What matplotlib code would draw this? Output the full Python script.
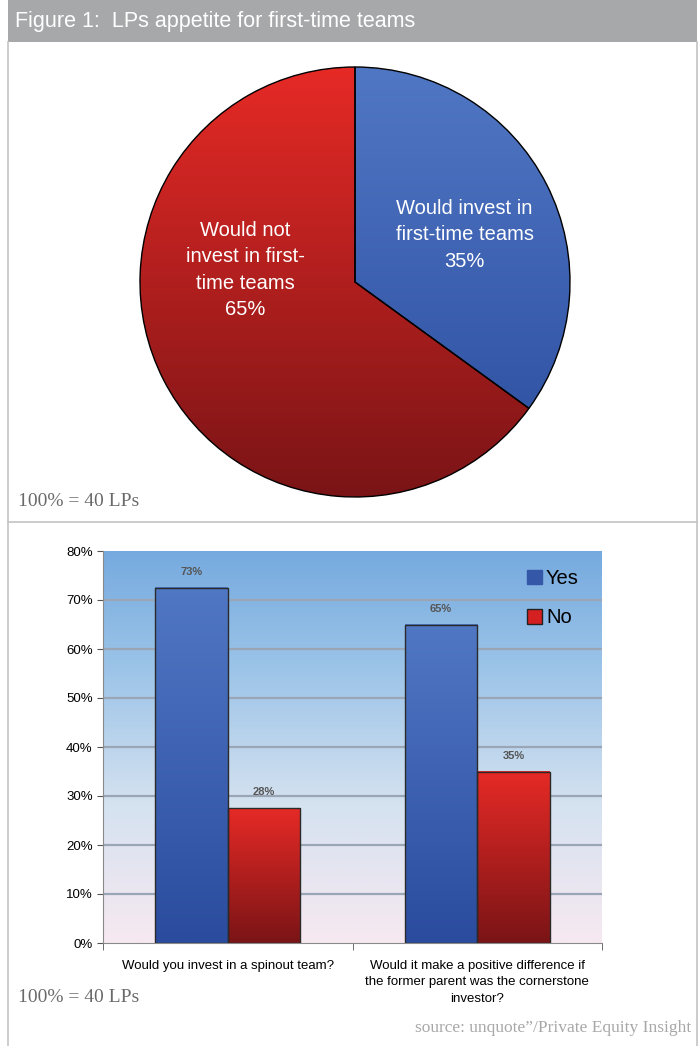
import matplotlib
matplotlib.use("Agg")
import matplotlib.pyplot as plt
import numpy as np
from matplotlib.colors import LinearSegmentedColormap
from matplotlib.patches import Rectangle
from matplotlib.lines import Line2D

# ---- data -------------------------------------------------------------
TITLE = "Figure 1:  LPs appetite for first-time teams"
PIE_LABELS = ["Would invest in\nfirst-time teams", "Would not\ninvest in first-\ntime teams"]
PIE_SHARES = [35, 65]
QUESTIONS = ["Would you invest in a spinout team?",
             "Would it make a positive difference if\nthe former parent was the cornerstone\ninvestor?"]
YES = [72.5, 65.0]
NO = [27.5, 35.0]
YES_LABELS = ["73%", "65%"]
NO_LABELS = ["28%", "35%"]
Y_TICKS = [0, 10, 20, 30, 40, 50, 60, 70, 80]
BASE_NOTE = "100% = 40 LPs"
SOURCE = "source: unquote\u201d/Private Equity Insight"

SANS = ["Liberation Sans", "DejaVu Sans"]
SERIF = ["Liberation Serif", "DejaVu Serif"]

BLUE_CM = LinearSegmentedColormap.from_list("blue", ["#5077c4", "#2b4c9e"])
RED_CM = LinearSegmentedColormap.from_list("red", ["#e62a26", "#7a1416"])
BG_CM = LinearSegmentedColormap.from_list(
    "bg", [(0, "#f7e9f0"), (0.35, "#d5e2f0"), (0.7, "#9cc4e8"), (1, "#76aadf")])

W, H = 698, 1046
fig = plt.figure(figsize=(W / 100, H / 100), dpi=100)


def fx(px):
    return px / W


def fy(py):
    return 1 - py / H


# ---- frame / header -----------------------------------------------------
frame = fig.add_axes([0, 0, 1, 1])
frame.set_xlim(0, W)
frame.set_ylim(H, 0)
frame.axis("off")
frame.add_patch(Rectangle((8, 0), 689, 42, color="#a7a8aa", lw=0))
frame.text(15, 22, TITLE, color="white", fontsize=15.5, family=SANS,
           va="center", ha="left")
for x in (8, 697):
    frame.add_line(Line2D([x, x], [42, H], color="#c4c4c4", lw=1.2))
frame.add_line(Line2D([8, 697], [522, 522], color="#c4c4c4", lw=1.2))
frame.text(18, 501, BASE_NOTE, family=SERIF, fontsize=14, color="#6a6a6a",
           va="center")
frame.text(18, 998, BASE_NOTE, family=SERIF, fontsize=14, color="#6a6a6a",
           va="center")
frame.text(691, 1028, SOURCE, family=SERIF, fontsize=12.5, color="#a8a8a8",
           ha="right", va="center")


# ---- pie ------------------------------------------------------------------
pax = fig.add_axes([fx(140), fy(497), fx(430), 430 / H])
wedges, _ = pax.pie(PIE_SHARES, startangle=90, counterclock=False, radius=1,
                    wedgeprops=dict(edgecolor="black", linewidth=1.0))
grad = np.linspace(0, 1, 256).reshape(-1, 1)
for w, cm in zip(wedges, [BLUE_CM, RED_CM]):
    w.set_facecolor("none")
    img = pax.imshow(grad, cmap=cm, extent=(-1, 1, -1, 1), origin="upper",
                     aspect="auto", zorder=0.5)
    img.set_clip_path(w)
pax.set_xlim(-1, 1)
pax.set_ylim(-1, 1)
pax.set_aspect("equal")
pax.axis("off")

# labels placed in the middle of each wedge
label_pos = [(0.51, 0.22), (-0.51, 0.055)]
for (lx, ly), lab, share in zip(label_pos, PIE_LABELS, PIE_SHARES):
    pax.text(lx, ly, f"{lab}\n{share}%", color="white", fontsize=14.5,
             family=SANS, ha="center", va="center", linespacing=1.5)


# ---- bar chart ------------------------------------------------------------
bax = fig.add_axes([fx(103), fy(943), fx(499), 392 / H])
bax.imshow(grad, cmap=BG_CM, extent=(-0.5, 1.5, 0, 80), origin="lower",
           aspect="auto", zorder=0)
bax.set_xlim(-0.5, 1.5)
bax.set_ylim(0, 80)
for y in Y_TICKS[1:-1]:
    bax.axhline(y, color="#9aa6b6", lw=1.6, zorder=1)

x = np.arange(len(QUESTIONS))
bw = 0.29
for vals, labels, off, cm in [(YES, YES_LABELS, -bw / 2, BLUE_CM),
                              (NO, NO_LABELS, bw / 2, RED_CM)]:
    bars = bax.bar(x + off, vals, width=bw, facecolor="none",
                   edgecolor="#2a2a2a", linewidth=1.0, zorder=3)
    for b, lab in zip(bars, labels):
        x0, y0 = b.get_x(), b.get_y()
        bax.imshow(grad, cmap=cm, origin="upper", aspect="auto",
                   extent=(x0, x0 + b.get_width(), y0, y0 + b.get_height()),
                   zorder=2)
        bax.text(x0 + b.get_width() / 2, b.get_height() + 2.2, lab,
                 ha="center", va="bottom", fontsize=8, fontweight="bold",
                 color="#555555", family=SANS)

bax.set_yticks(Y_TICKS)
bax.set_yticklabels([f"{v}%" for v in Y_TICKS], fontsize=9.5, family=SANS)
bax.set_xticks(x)
bax.set_xticklabels(QUESTIONS, fontsize=9.5, family=SANS, linespacing=1.5)
bax.tick_params(axis="x", length=0, pad=12)
bax.set_xticks([-0.5, 0.5, 1.5], minor=True)
bax.tick_params(axis="x", which="minor", length=5, color="#555555")
bax.tick_params(axis="y", length=4, color="#555555")
for s in ("top", "right"):
    bax.spines[s].set_visible(False)
for s in ("left", "bottom"):
    bax.spines[s].set_color("#8a8a8a")

handles = [Rectangle((0, 0), 1, 1, facecolor="#3457a8", edgecolor="#3457a8"),
           Rectangle((0, 0), 1, 1, facecolor="#d42020", edgecolor="#222222")]
bax.legend(handles, ["Yes", "No"], loc="upper right", frameon=False,
           prop=dict(family=SANS, size=14.5), handlelength=0.75, handleheight=0.75,
           handletextpad=0.2, labelspacing=1.0, bbox_to_anchor=(0.99, 1.0))

fig.savefig("out.png", dpi=100)
